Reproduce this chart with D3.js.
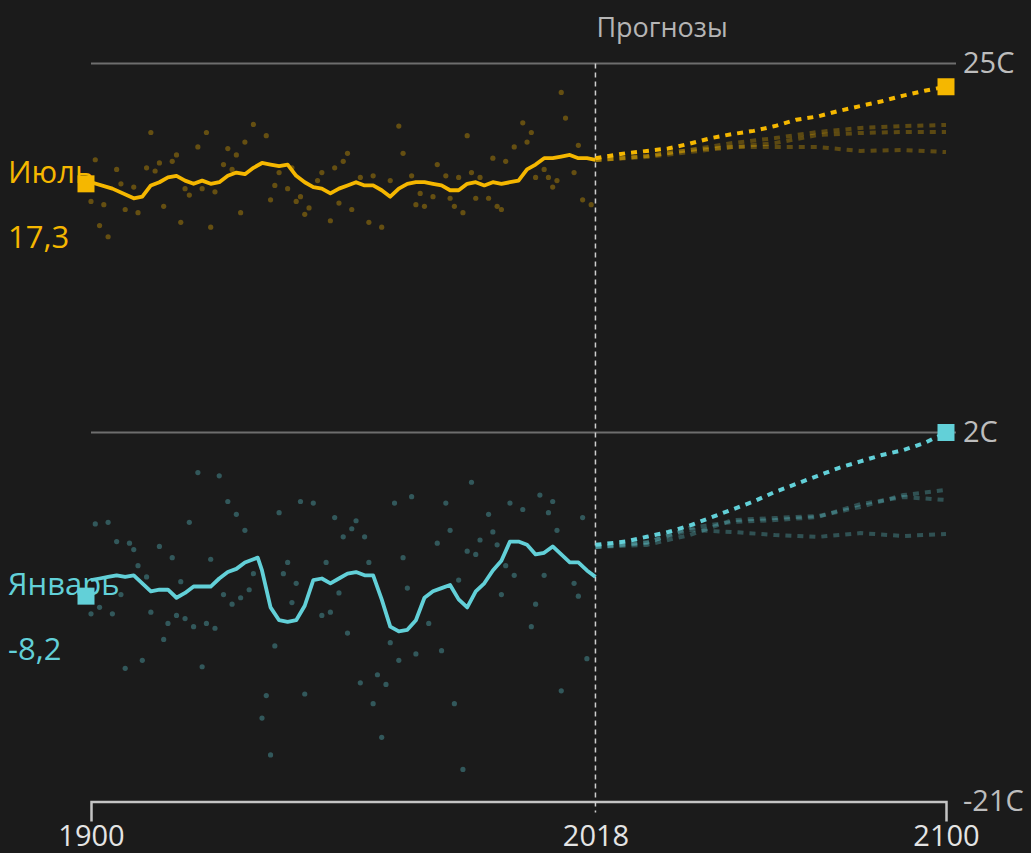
<!DOCTYPE html>
<html>
<head>
<meta charset="utf-8">
<script src="https://cdn.jsdelivr.net/npm/d3@7"></script>
<style>
  html, body { margin: 0; padding: 0; background: #1b1b1b; }
  svg { display: block; font-family: "Open Sans", sans-serif; }
</style>
</head>
<body>
<div id="chart"></div>
<script>
// smoothed observed series (year, degrees C)
var julyTrend = [
  [1900,17.6],[1905,17.2],[1910,16.6],[1912,16.7],[1914,17.4],[1916,17.6],[1918,17.9],[1920,18.0],
  [1922,17.7],[1924,17.5],[1926,17.7],[1928,17.5],[1930,17.6],[1932,18.0],[1934,18.2],[1936,18.1],
  [1938,18.5],[1940,18.8],[1942,18.7],[1944,18.6],[1946,18.7],[1948,18.0],[1950,17.6],[1952,17.3],
  [1954,17.2],[1956,16.9],[1958,17.2],[1960,17.4],[1962,17.6],[1964,17.4],[1966,17.4],[1968,17.1],
  [1970,16.7],[1972,17.2],[1974,17.5],[1976,17.6],[1978,17.6],[1980,17.5],[1982,17.4],[1984,17.1],
  [1986,17.1],[1988,17.5],[1990,17.6],[1992,17.4],[1994,17.6],[1996,17.5],[1998,17.6],[2000,17.7],
  [2002,18.4],[2004,18.7],[2006,19.1],[2008,19.1],[2010,19.2],[2012,19.3],[2014,19.1],[2016,19.1],
  [2018,19.0]
];
var janTrend = [
  [1900,-7.2],[1902,-7.1],[1904,-7.0],[1906,-6.9],[1908,-7.0],[1910,-6.9],[1912,-7.4],[1914,-7.9],
  [1916,-7.8],[1918,-7.8],[1920,-8.3],[1922,-8.0],[1924,-7.6],[1926,-7.6],[1928,-7.6],[1930,-7.1],
  [1932,-6.7],[1934,-6.5],[1936,-6.1],[1938,-5.9],[1939,-5.8],[1940,-6.6],[1942,-8.9],[1944,-9.7],
  [1946,-9.8],[1948,-9.7],[1950,-8.8],[1952,-7.2],[1954,-7.1],[1956,-7.4],[1958,-7.1],[1960,-6.8],
  [1962,-6.7],[1964,-6.9],[1966,-6.9],[1968,-8.4],[1970,-10.1],[1972,-10.4],[1974,-10.3],[1976,-9.7],
  [1978,-8.3],[1980,-7.9],[1982,-7.7],[1984,-7.5],[1986,-8.4],[1988,-8.9],[1990,-7.9],[1992,-7.4],
  [1994,-6.6],[1996,-6.0],[1998,-4.8],[2000,-4.8],[2002,-5.0],[2004,-5.6],[2006,-5.5],[2008,-5.1],
  [2010,-5.6],[2012,-6.1],[2014,-6.1],[2016,-6.6],[2018,-7.0]
];

// yearly observations
var julyObs = [
  [1900,16.4],[1901,19.0],[1902,14.9],[1903,16.2],[1904,14.2],[1906,18.4],[1907,17.5],[1908,15.9],
  [1910,17.3],[1911,15.7],[1913,18.5],[1914,20.7],[1915,18.3],[1916,18.8],[1917,16.1],[1919,18.9],
  [1920,19.3],[1921,15.1],[1922,17.2],[1923,16.8],[1925,19.8],[1926,17.2],[1927,20.7],[1928,14.8],
  [1929,17.0],[1931,18.7],[1932,19.7],[1933,18.4],[1934,19.3],[1935,15.7],[1936,20.1],[1938,21.2],
  [1941,20.5],[1942,16.5],[1943,17.4],[1944,18.2],[1946,17.2],[1947,18.5],[1948,16.4],[1949,16.7],
  [1950,15.6],[1951,16.0],[1953,17.7],[1954,18.2],[1956,15.2],[1957,18.5],[1958,16.3],[1959,18.9],
  [1960,19.4],[1961,15.9],[1963,17.9],[1965,15.1],[1966,18.0],[1968,14.8],[1970,17.7],[1972,21.1],
  [1973,19.4],[1975,18.0],[1976,16.2],[1977,16.9],[1978,16.1],[1980,16.7],[1981,18.7],[1983,18.0],
  [1984,16.6],[1985,16.1],[1986,17.9],[1987,15.7],[1988,20.5],[1989,18.2],[1990,16.6],[1991,17.9],
  [1993,16.6],[1994,19.1],[1995,16.1],[1996,15.9],[1997,18.9],[1999,19.8],[2001,21.3],[2002,20.1],
  [2003,20.7],[2004,17.9],[2006,18.4],[2007,17.9],[2008,17.3],[2009,17.7],[2010,23.2],[2011,21.6],
  [2013,18.2],[2014,19.9],[2015,16.5],[2017,16.2]
];
var janObs = [
  [1900,-9.3],[1901,-3.7],[1902,-8.9],[1904,-3.6],[1905,-9.3],[1906,-4.8],[1907,-8.1],[1908,-12.7],
  [1909,-4.9],[1910,-5.3],[1911,-6.3],[1912,-12.2],[1913,-7.0],[1914,-9.2],[1916,-5.1],[1917,-10.9],
  [1918,-9.9],[1919,-5.8],[1920,-9.4],[1921,-7.3],[1922,-9.6],[1923,-3.6],[1924,-10.1],[1925,-0.5],
  [1926,-12.6],[1927,-9.9],[1928,-5.9],[1929,-10.2],[1930,-0.7],[1931,-8.1],[1932,-2.3],[1933,-8.7],
  [1934,-3.1],[1935,-8.3],[1936,-4.1],[1937,-7.8],[1938,-6.8],[1940,-15.8],[1941,-14.4],[1942,-18.1],
  [1943,-11.3],[1944,-3.0],[1945,-6.8],[1946,-6.1],[1947,-8.6],[1948,-7.4],[1949,-2.3],[1950,-14.3],
  [1952,-2.4],[1954,-9.4],[1955,-6.1],[1956,-9.2],[1957,-3.3],[1958,-8.0],[1959,-4.5],[1960,-10.5],
  [1961,-4.0],[1962,-3.5],[1963,-13.6],[1964,-4.5],[1965,-6.1],[1966,-14.9],[1967,-13.1],[1968,-17.0],
  [1969,-13.7],[1970,-11.1],[1971,-2.4],[1972,-12.2],[1973,-5.8],[1974,-7.7],[1975,-2.0],[1976,-11.8],
  [1979,-9.9],[1981,-4.9],[1982,-11.6],[1983,-2.4],[1984,-4.1],[1985,-14.9],[1986,-7.2],[1987,-19.0],
  [1988,-5.4],[1989,-1.1],[1990,-5.6],[1991,-4.7],[1993,-3.1],[1994,-4.2],[1995,-5.0],[1996,-8.1],
  [1997,-6.3],[1998,-2.4],[1999,-6.9],[2001,-2.8],[2003,-10.1],[2004,-8.7],[2005,-1.9],[2006,-6.9],
  [2007,-3.0],[2008,-2.3],[2009,-4.1],[2010,-14.1],[2013,-7.4],[2014,-8.2],[2015,-3.3],[2016,-12.1]
];

// projections
var projYears = [2018,2025,2030,2035,2040,2045,2050,2055,2060,2065,2070,2075,2080,2085,2090,2095,2100];
var julyProj = [19.1,19.4,19.55,19.7,20.0,20.35,20.6,20.8,21.1,21.5,21.7,22.05,22.35,22.65,23.0,23.3,23.55];
var janProj = [-5.0,-4.8,-4.5,-4.2,-3.8,-3.3,-2.8,-2.3,-1.7,-1.2,-0.7,-0.2,0.2,0.6,0.9,1.35,2.0];

var altYears = [2018,2030,2040,2050,2060,2070,2080,2090,2100];
var julyAlt = [
  [18.98,19.23,19.61,20.04,20.35,20.73,20.98,21.1,21.17],
  [18.98,19.17,19.48,19.79,20.04,20.54,20.67,20.73,20.73],
  [18.98,19.23,19.61,19.79,19.79,19.79,19.55,19.61,19.48]
];
var janAlt = [
  [-5.14,-5.01,-4.39,-3.46,-3.33,-3.21,-2.64,-1.9,-1.58],
  [-5.14,-4.89,-3.95,-3.58,-3.46,-3.27,-2.46,-2.02,-2.21],
  [-5.14,-4.83,-4.08,-4.2,-4.39,-4.51,-4.27,-4.45,-4.33]
];

var xTicks = [1900, 2018, 2100];
var yTicks = [-21, 2, 25];
var gridValues = [25, 2];

var series = [
  {name: "Июль", label: "17,3", start: 17.5, color: "#f5b700", trend: julyTrend, obs: julyObs, proj: julyProj, alt: julyAlt},
  {name: "Январь", label: "-8,2", start: -8.2, color: "#62d0d8", trend: janTrend, obs: janObs, proj: janProj, alt: janAlt}
];

var width = 1031, height = 853;

var x = d3.scaleLinear().domain([1900, 2100]).range([91, 946]),
    y = d3.scaleLinear().domain([-21, 25]).range([801.5, 63.5]);

var svg = d3.select("#chart").append("svg")
    .attr("width", width)
    .attr("height", height);

svg.append("rect").attr("width", width).attr("height", height).attr("fill", "#1b1b1b");

// gridlines
svg.selectAll(".grid")
  .data(gridValues)
  .enter().append("line")
    .attr("class", "grid")
    .attr("x1", x(1900)).attr("x2", x(2100) + 10)
    .attr("y1", function(d) { return y(d); })
    .attr("y2", function(d) { return y(d); })
    .attr("stroke", "#6e6e6e")
    .attr("stroke-width", 2);

// x axis
var xAxis = svg.append("g")
    .attr("transform", "translate(0," + y(-21) + ")")
    .call(d3.axisBottom(x).tickValues(xTicks).tickFormat(d3.format("d"))
      .tickSizeInner(0).tickSizeOuter(20).tickPadding(24));
xAxis.select(".domain").attr("stroke", "#c4c4c4").attr("stroke-width", 2.5);
xAxis.selectAll("text").attr("fill", "#e4e4e4").style("font-size", "29px")
    .style("font-family", "'Open Sans', sans-serif");

// y labels
var yAxis = svg.append("g")
    .attr("transform", "translate(" + x(2100) + ",0)")
    .call(d3.axisRight(y).tickValues(yTicks).tickFormat(function(d) { return d + "C"; })
      .tickSize(0).tickPadding(17));
yAxis.select(".domain").remove();
yAxis.selectAll("text").attr("fill", "#bdbdbd").style("font-size", "29px")
    .style("font-family", "'Open Sans', sans-serif");

// forecast divider
svg.append("line")
    .attr("x1", x(2018)).attr("x2", x(2018))
    .attr("y1", y(25)).attr("y2", y(-21) + 11)
    .attr("stroke", "#cfcfcf")
    .attr("stroke-width", 1.5)
    .attr("stroke-dasharray", "5,4");

svg.append("text")
    .attr("x", x(2018) + 1)
    .attr("y", 37)
    .attr("fill", "#b5b5b5")
    .style("font-size", "27px")
    .text("Прогнозы");

var line = d3.line()
    .x(function(d) { return x(d[0]); })
    .y(function(d) { return y(d[1]); });

series.forEach(function(s) {
  var g = svg.append("g");

  g.selectAll(".dot")
    .data(s.obs)
    .enter().append("circle")
      .attr("cx", function(d) { return x(d[0]); })
      .attr("cy", function(d) { return y(d[1]); })
      .attr("r", 2.6)
      .attr("fill", s.color)
      .attr("opacity", 0.34);

  s.alt.forEach(function(vals) {
    g.append("path")
      .datum(altYears.map(function(yr, i) { return [yr, vals[i]]; }))
      .attr("d", line)
      .attr("fill", "none")
      .attr("stroke", s.color)
      .attr("stroke-width", 4)
      .attr("stroke-dasharray", "6,6")
      .attr("opacity", 0.3);
  });

  g.append("path")
    .datum(projYears.map(function(yr, i) { return [yr, s.proj[i]]; }))
    .attr("d", line)
    .attr("fill", "none")
    .attr("stroke", s.color)
    .attr("stroke-width", 4)
    .attr("stroke-dasharray", "6,6");

  g.append("path")
    .datum(s.trend)
    .attr("d", line)
    .attr("fill", "none")
    .attr("stroke", s.color)
    .attr("stroke-width", 3.8)
    .attr("stroke-linejoin", "round");

  // markers
  g.append("rect")
    .attr("x", x(1900) - 5 - 8.5).attr("y", y(s.start) - 8.5)
    .attr("width", 17).attr("height", 17)
    .attr("fill", s.color);
  g.append("rect")
    .attr("x", x(2100) - 8.5).attr("y", y(s.proj[s.proj.length - 1]) - 8.5)
    .attr("width", 17).attr("height", 17)
    .attr("fill", s.color);

  g.append("text")
    .attr("x", 8)
    .attr("y", y(s.start) - 1)
    .attr("fill", s.color)
    .style("font-size", "31px")
    .text(s.name);
  g.append("text")
    .attr("x", 8)
    .attr("y", y(s.start) + 64)
    .attr("fill", s.color)
    .style("font-size", "31px")
    .text(s.label);
});
</script>
</body>
</html>
